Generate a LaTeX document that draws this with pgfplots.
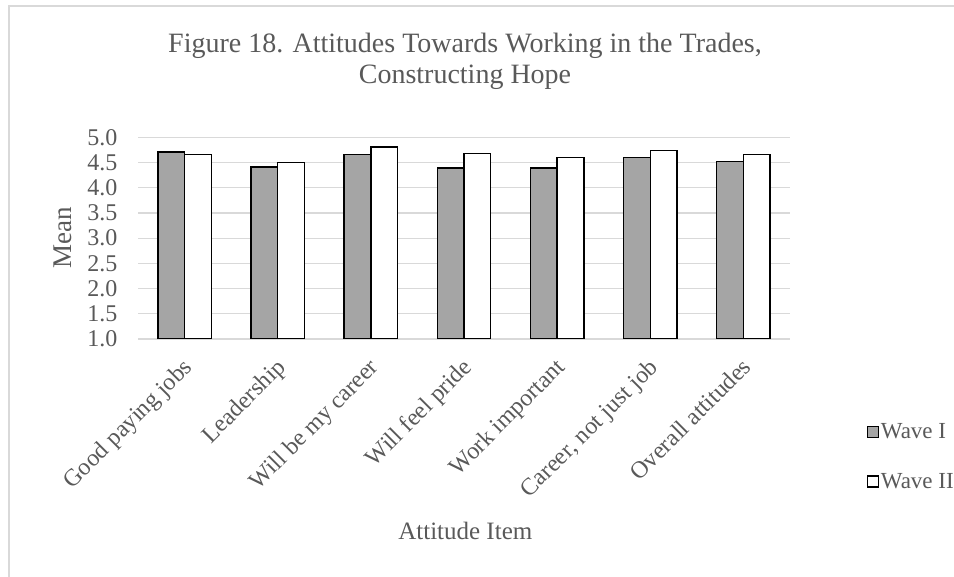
\documentclass[border=0pt]{standalone}
\usepackage{pgfplots}
\pgfplotsset{compat=1.18}
\usepackage{fontspec}
\setmainfont{Liberation Serif}
\definecolor{txt}{HTML}{595959}
\definecolor{grd}{HTML}{D9D9D9}
\definecolor{barg}{HTML}{A5A5A5}
\begin{document}
\begin{tikzpicture}[x=1bp,y=1bp]
\useasboundingbox (0,0) rectangle (954,577);
\draw[grd,line width=1.2bp] (9,0) -- (9,571) -- (954,571);
\node[txt,font=\fontsize{28bp}{31bp}\selectfont,align=center] at (465,516) {Figure 18. Attitudes Towards Working in the Trades,\\Constructing Hope};
\begin{axis}[
  at={(138bp,238bp)}, anchor=south west,
  scale only axis, width=652bp, height=201.7bp,
  xmin=-0.5, xmax=6.5, ymin=1, ymax=5,
  axis line style={draw=none},
  ytick={1,1.5,...,5.01},
  xtick={0,...,6},
  xticklabels={Good paying jobs,Leadership,Will be my career,Will feel pride,Work important,{Career, not just job},Overall attitudes},
  ymajorgrids, grid style={grd,line width=1.2bp},
  tick style={draw=none},
  /pgf/number format/assume math mode=true,
  yticklabel style={/pgf/number format/.cd,fixed,fixed zerofill,precision=1,/tikz/.cd, txt, font=\fontsize{24bp}{24bp}\selectfont, xshift=-17bp},
  xticklabel style={xshift=-3bp, yshift=-12bp, rotate=45, anchor=north east, txt, font=\fontsize{24bp}{24bp}\selectfont, inner sep=1bp},
  ybar=0pt, bar width=26.7bp,
  ylabel={Mean}, ylabel style={txt,font=\fontsize{27bp}{27bp}\selectfont, at={(axis description cs:-0.115,0.5)}, anchor=center, rotate=0},
  xlabel={Attitude Item}, xlabel style={txt,font=\fontsize{25bp}{25bp}\selectfont, at={(axis description cs:0.502,-0.953)}, anchor=center},
  legend style={draw=none, fill=none, at={(axis description cs:1.117,-0.583)}, anchor=west, font=\fontsize{23bp}{23bp}\selectfont, text=txt, row sep=29bp, legend cell align=left, inner sep=0pt},
  legend image code/.code={\draw[#1] (0bp,-5.5bp) rectangle (11bp,5.5bp);},
]
\draw[grd,line width=1.2bp] (axis cs:-0.5,1) -- (axis cs:6.5,1);
\addplot[fill=barg, draw=black, line width=1.4bp, bar shift=-13.35bp] coordinates {(0,4.71) (1,4.41) (2,4.66) (3,4.39) (4,4.39) (5,4.60) (6,4.52)};
\addplot[fill=white, draw=black, line width=1.4bp, bar shift=13.35bp] coordinates {(0,4.66) (1,4.50) (2,4.81) (3,4.68) (4,4.60) (5,4.74) (6,4.66)};
\legend{Wave I, Wave II}
\end{axis}
\end{tikzpicture}
\end{document}
